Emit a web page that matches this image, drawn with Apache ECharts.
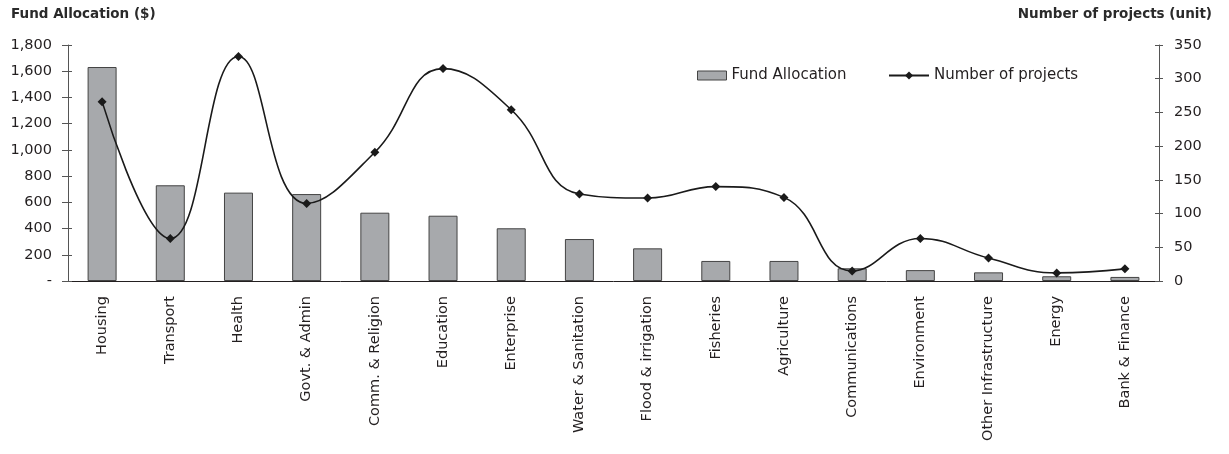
<!DOCTYPE html>
<html>
<head>
<meta charset="utf-8">
<script src="https://cdn.jsdelivr.net/npm/echarts@6/dist/echarts.min.js"></script>
<style>
html,body{margin:0;padding:0;background:#fff;}
#c{width:1229px;height:454px;}
</style>
</head>
<body>
<div id="c"></div>
<script>
const categories = ["Housing","Transport","Health","Govt. & Admin","Comm. & Religion","Education","Enterprise","Water & Sanitation","Flood & irrigation","Fisheries","Agriculture","Communications","Environment","Other Infrastructure","Energy","Bank & Finance"];
const fundAllocation = [1632, 730, 674, 663, 521, 498, 402, 320, 249, 153, 153, 97, 83, 66, 36, 31];
const numberOfProjects = [266, 63, 333, 115, 191, 315, 254, 129, 123, 140, 124, 15, 63, 34, 12, 18];
const leftTicks = [0, 200, 400, 600, 800, 1000, 1200, 1400, 1600, 1800];
const rightTicks = [0, 50, 100, 150, 200, 250, 300, 350];

const FONT = "DejaVu Sans";
const TXT = '#231f20';
const chart = echarts.init(document.getElementById('c'), null, {renderer:'canvas'});
const tickAxis = (min, max, interval, pos, inside, len) => ({
  type:'value', min, max, interval, position: pos,
  axisLine:{show: !inside, lineStyle:{color:'#555', width:1}},
  axisTick:{show:true, inside: inside, length: len, lineStyle:{color:'#555'}},
  splitLine:{show:false}
});
const leftMain = tickAxis(0, leftTicks[leftTicks.length-1], leftTicks[1]-leftTicks[0], 'left', false, 6);
leftMain.axisLabel = {fontFamily: FONT, fontSize: 14.5, color: TXT, margin: 16,
  formatter: v => v === 0 ? '-' : v.toLocaleString('en-US')};
const rightMain = tickAxis(0, rightTicks[rightTicks.length-1], rightTicks[1]-rightTicks[0], 'right', false, 4);
rightMain.axisLabel = {fontFamily: FONT, fontSize: 14.5, color: TXT, margin: 15};
const leftInner = tickAxis(0, leftTicks[leftTicks.length-1], leftTicks[1]-leftTicks[0], 'left', true, 4);
leftInner.axisLabel = {show:false};
const rightInner = tickAxis(0, rightTicks[rightTicks.length-1], rightTicks[1]-rightTicks[0], 'right', true, 4);
rightInner.axisLabel = {show:false};

chart.setOption({
  animation: false,
  textStyle: {fontFamily: FONT},
  graphic: [
    {type:'text', left: 11, top: 7, style:{text:'Fund Allocation ($)', fontFamily: FONT, fontSize: 13.5, fontWeight: 'bold', fill: '#2a2a2a'}},
    {type:'text', right: 17, top: 7, style:{text:'Number of projects (unit)', fontFamily: FONT, fontSize: 13.5, fontWeight: 'bold', fill: '#2a2a2a'}}
  ],
  legend: [
    {top: 63, left: 692, itemGap: 0,
     textStyle: {fontFamily: FONT, fontSize: 15, color: TXT},
     data: [{name:'Fund Allocation', icon:'rect', itemStyle:{color:'#a7a9ac', borderColor:'#444', borderWidth:1}}],
     itemWidth: 29, itemHeight: 9},
    {top: 63, left: 883, itemGap: 0,
     textStyle: {fontFamily: FONT, fontSize: 15, color: TXT},
     data: [{name:'Number of projects'}],
     itemWidth: 40, itemHeight: 10}
  ],
  grid: {left: 68, right: 70, top: 45, bottom: 173, containLabel: false},
  xAxis: {
    type:'category', data: categories,
    axisLine:{lineStyle:{color:'#231f20', width:1}},
    axisTick:{show:false},
    axisLabel:{rotate:90, fontFamily: FONT, fontSize: 14.5, color: TXT, margin: 15, interval: 0}
  },
  yAxis: [leftMain, rightMain, leftInner, rightInner],
  series: [
    {name:'Fund Allocation', type:'bar', data: fundAllocation, yAxisIndex: 0, barWidth: 29,
     itemStyle:{color:'#a7a9ac', borderColor:'#444', borderWidth:1}},
    {name:'Number of projects', type:'line', data: numberOfProjects, yAxisIndex: 1, smooth: 0.45,
     symbol:'diamond', symbolSize: 9, showSymbol: true,
     lineStyle:{color:'#1a1a1a', width:1.6},
     itemStyle:{color:'#1a1a1a'}}
  ]
});
</script>
</body>
</html>
